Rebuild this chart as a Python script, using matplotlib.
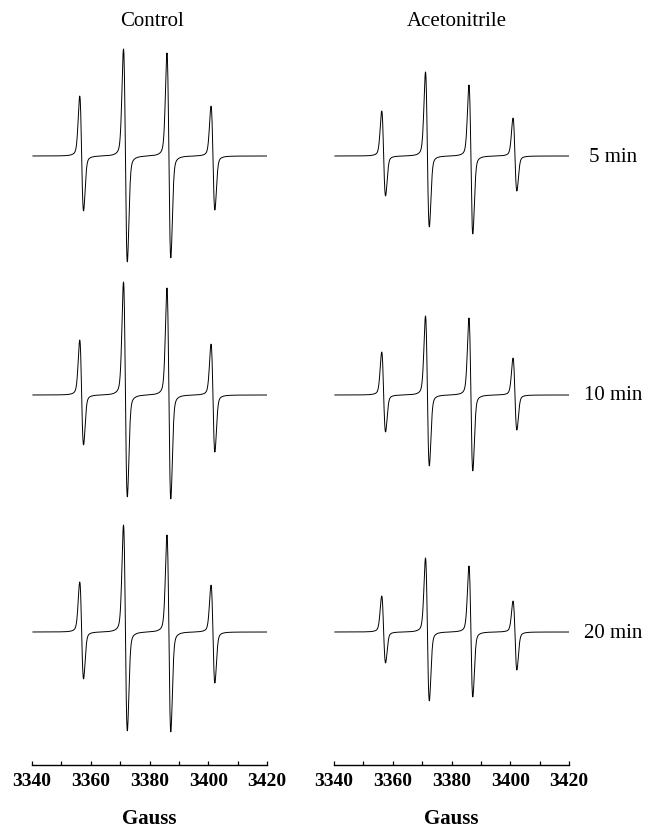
import matplotlib
matplotlib.use("Agg")
import matplotlib.pyplot as plt
import numpy as np
from matplotlib.ticker import MultipleLocator

plt.rcParams["font.family"] = ["Liberation Serif", "DejaVu Serif"]

# field axis (Gauss)
FIELD_MIN = 3340
FIELD_MAX = 3420

# line positions of the 1:2:2:1 quartet (G) and peak-to-peak width (G)
line_positions = [3356.9, 3371.8, 3386.6, 3401.6]
line_width_pp = 1.3

times = ["5 min", "10 min", "20 min"]
panels = ["Control", "Acetonitrile"]

# upper lobe heights / lower lobe depths (a.u.) for each line, per time
control_up = [[60, 107, 103, 50],
              [55, 113, 107, 51],
              [50, 107, 97, 47]]
control_down = [[55, 106, 102, 54],
                [50, 102, 104, 57],
                [47, 99, 100, 51]]

aceto_up = [[45, 84, 71, 38],
            [43, 79, 77, 37],
            [36, 74, 66, 31]]
aceto_down = [[40, 71, 78, 35],
              [37, 71, 76, 35],
              [31, 69, 65, 38]]


def line_shape(u_field):
    # first-derivative pseudo-Voigt (mostly Gaussian), unit lobe height
    sigma = line_width_pp / 2
    gamma = line_width_pp * np.sqrt(3) / 2
    ug = u_field / sigma
    ul = u_field / gamma
    gauss = -ug * np.exp(-ug ** 2 / 2) / np.exp(-0.5)
    lor = -ul / (1 + ul ** 2) ** 2 / ((1 / np.sqrt(3)) / (4 / 3) ** 2)
    return 0.75 * gauss + 0.25 * lor


_grid = np.linspace(-3, 0, 3001)
_norm = line_shape(_grid).max()


def derivative_spectrum(field, ups, downs):
    y = np.zeros_like(field)
    for pos, up, down in zip(line_positions, ups, downs):
        d = field - pos
        shape = line_shape(d) / _norm
        y += np.where(d < 0, shape * up, shape * down)
    return y


W, H = 645, 829
fig = plt.figure(figsize=(W / 100, H / 100), dpi=100)

axis_y = 766
row_baselines = [157, 396, 633]  # pixel rows of each trace baseline
panel_left = [32, 334]
panel_width = 235

field = np.linspace(FIELD_MIN + 0.3, FIELD_MAX, 1024)

for p, (ups_all, downs_all) in enumerate([(control_up, control_down),
                                          (aceto_up, aceto_down)]):
    ax = fig.add_axes([panel_left[p] / W, (H - axis_y) / H,
                       panel_width / W, axis_y / H])
    for r in range(3):
        offset = axis_y - row_baselines[r]
        spec = derivative_spectrum(field, ups_all[r], downs_all[r])
        ax.plot(field, spec + offset, color="black", linewidth=0.7)

    ax.set_xlim(FIELD_MIN, FIELD_MAX)
    ax.set_ylim(0, axis_y)
    for side in ["top", "left", "right"]:
        ax.spines[side].set_visible(False)
    ax.spines["bottom"].set_linewidth(1.0)
    ax.set_yticks([])
    ax.xaxis.set_major_locator(MultipleLocator(20))
    ax.xaxis.set_minor_locator(MultipleLocator(10))
    ax.tick_params(axis="x", which="both", direction="in", length=3,
                   width=0.9, pad=5)
    for lab in ax.get_xticklabels():
        lab.set_fontsize(14)
        lab.set_fontweight("bold")

    center = panel_left[p] + panel_width / 2
    fig.text(center / W, 1 - 819 / H, "Gauss", ha="center", va="center",
             fontsize=15, fontweight="bold")
    fig.text((152 if p == 0 else 457) / W, 1 - 22 / H, panels[p],
             ha="center", va="center", fontsize=15)

for r, label in enumerate(times):
    fig.text(613 / W, 1 - row_baselines[r] / H, label, ha="center",
             va="center", fontsize=15)

fig.savefig("out.png", dpi=100)
